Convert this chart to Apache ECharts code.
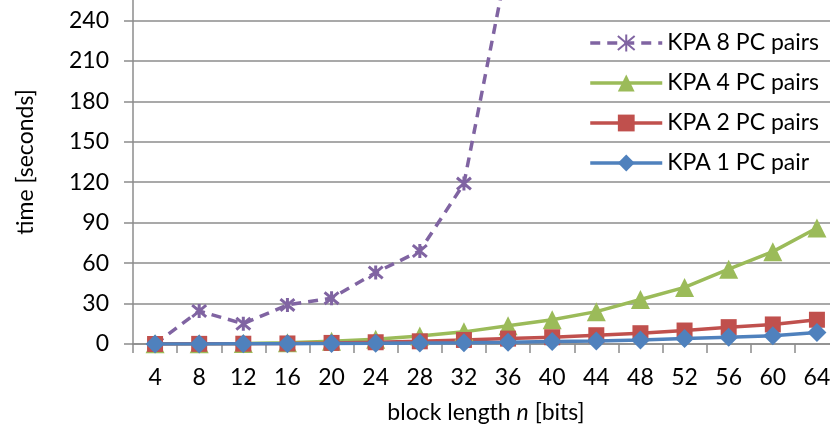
<!DOCTYPE html>
<html>
<head>
<meta charset="utf-8">
<script src="https://cdn.jsdelivr.net/npm/echarts@6/dist/echarts.min.js"></script>
<style>html,body{margin:0;padding:0;background:#fff;}#c{width:830px;height:434px;}</style>
</head>
<body>
<div id="c"></div>
<script>
var categories = ['4','8','12','16','20','24','28','32','36','40','44','48','52','56','60','64'];
var kpa8 = [0, 24.5, 15, 29, 34, 53, 69, 119, 285, null, null, null, null, null, null, null];
var kpa4 = [0.1, 0.2, 0.4, 1, 2, 3.5, 6, 9, 13.5, 18, 24, 33, 42, 55.5, 68.5, 86];
var kpa2 = [0, 0.1, 0.2, 0.4, 0.8, 1.3, 2, 3, 4, 5, 6.5, 8, 10, 12.5, 14.5, 18];
var kpa1 = [0, 0, 0.1, 0.2, 0.3, 0.5, 0.8, 1, 1.3, 1.8, 2.3, 3, 4, 5, 6.2, 8.5];
var seriesNames = ['KPA 8 PC pairs', 'KPA 4 PC pairs', 'KPA 2 PC pairs', 'KPA 1 PC pair'];

var FONT = 'Lato';
var FS = 23;
var chart = echarts.init(document.getElementById('c'));
var star = 'path://M0,0L10,10M10,0L0,10M5,-1L5,11';
chart.setOption({
  animation: false,
  textStyle: { fontFamily: FONT },
  grid: { left: 133, right: -9, top: -20, bottom: 90, containLabel: false, outerBoundsMode: 'none' },
  legend: {
    data: seriesNames,
    orient: 'vertical',
    right: 6,
    top: 24,
    itemWidth: 72,
    itemHeight: 21,
    itemGap: 12,
    align: 'left',
    lineStyle: { width: 3.5 },
    textStyle: { fontFamily: FONT, fontSize: FS, color: '#000', lineHeight: 28 }
  },
  xAxis: {
    type: 'category',
    data: categories,
    boundaryGap: true,
    axisLine: { lineStyle: { color: '#8c8c8c', width: 1.5 } },
    axisTick: { show: true, length: 9, lineStyle: { color: '#8c8c8c', width: 1.5 } },
    axisLabel: { fontSize: FS, color: '#000', margin: 22, fontFamily: FONT },
    name: '{a|block length }{i|n}{a| [bits]}',
    nameLocation: 'middle',
    nameGap: 69,
    nameMoveOverlap: false,
    nameTextStyle: {
      verticalAlign: 'middle',
      rich: {
        a: { fontSize: FS, color: '#000', fontFamily: FONT },
        i: { fontSize: FS, color: '#000', fontFamily: FONT, fontStyle: 'italic' }
      }
    }
  },
  yAxis: {
    type: 'value',
    min: 0,
    max: 270,
    interval: 30,
    axisLine: { show: true, lineStyle: { color: '#8c8c8c', width: 1.5 } },
    axisTick: { show: true, length: 9, lineStyle: { color: '#8c8c8c', width: 1.5 } },
    axisLabel: { fontSize: FS, color: '#000', margin: 24, fontFamily: FONT },
    splitLine: { show: true, lineStyle: { color: '#8c8c8c', width: 1.5 } },
    name: 'time [seconds]',
    nameLocation: 'middle',
    nameGap: 96,
    nameMoveOverlap: false,
    nameTextStyle: { fontSize: FS, color: '#000', fontFamily: FONT }
  },
  series: [
    {
      name: seriesNames[0], type: 'line', data: kpa8, clip: true,
      symbol: star, symbolSize: 14, connectNulls: false,
      lineStyle: { color: '#8064A2', width: 3.5, type: [10, 7] },
      itemStyle: { color: 'rgba(0,0,0,0)', borderColor: '#8064A2', borderWidth: 3 }
    },
    {
      name: seriesNames[1], type: 'line', data: kpa4,
      symbol: 'triangle', symbolSize: 19,
      lineStyle: { color: '#9BBB59', width: 3.5 },
      itemStyle: { color: '#9BBB59' }
    },
    {
      name: seriesNames[2], type: 'line', data: kpa2,
      symbol: 'rect', symbolSize: 16,
      lineStyle: { color: '#C0504D', width: 3.5 },
      itemStyle: { color: '#C0504D' }
    },
    {
      name: seriesNames[3], type: 'line', data: kpa1,
      symbol: 'diamond', symbolSize: 19,
      lineStyle: { color: '#4F81BD', width: 3.5 },
      itemStyle: { color: '#4F81BD' }
    }
  ]
});
</script>
</body>
</html>
